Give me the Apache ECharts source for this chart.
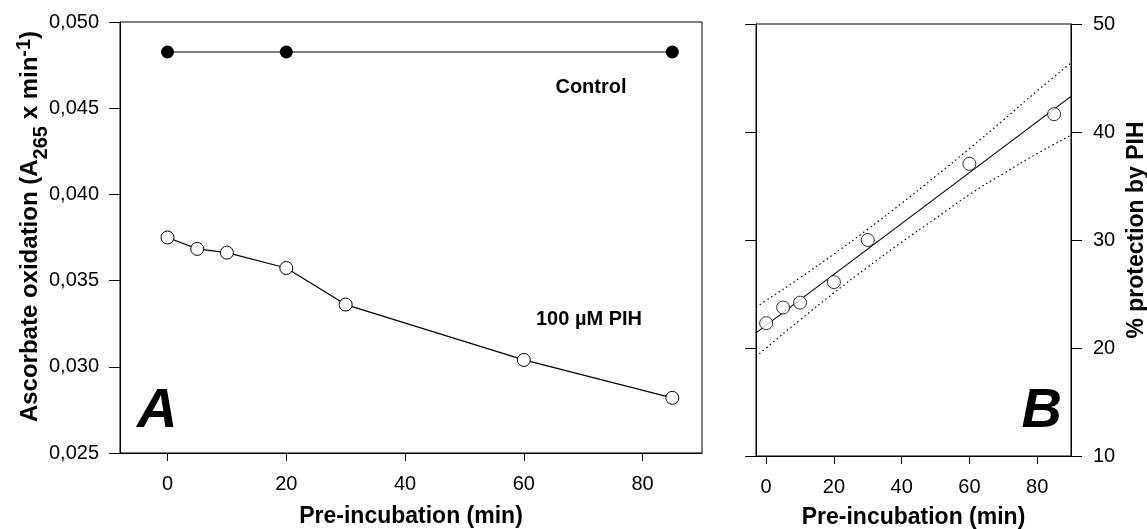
<!DOCTYPE html>
<html>
<head>
<meta charset="utf-8">
<script src="https://cdn.jsdelivr.net/npm/echarts@6/dist/echarts.min.js"></script>
<style>
  html, body { margin: 0; padding: 0; background: #fff; }
  #chart { width: 1147px; height: 529px; }
</style>
</head>
<body>
<div id="chart"></div>
<script>
const fontName = "'Liberation Sans', Arial, sans-serif";

// panel A - ascorbate oxidation
const timeA = [0, 5, 10, 20, 30, 60, 85];
const pihValues = [0.0375, 0.03684, 0.03662, 0.03573, 0.03361, 0.0304, 0.0282];
const controlTimes = [0, 20, 85];
const controlValues = [0.04826, 0.04826, 0.04826];
const yTicksA = [0.025, 0.03, 0.035, 0.04, 0.045, 0.05];

// panel B - % protection
const timeB = [0, 5, 10, 20, 30, 60, 85];
const protection = [22.3, 23.75, 24.2, 26.1, 30.0, 37.05, 41.65];
const fitX = [-3, 90];
const fitY = [21.4, 43.3];
const bandX = [-3, 0, 10, 20, 30, 40, 50, 60, 70, 80, 90];
const bandUpper = [23.8, 24.4, 26.5, 28.7, 31.0, 33.4, 35.9, 38.45, 41.1, 43.8, 46.4];
const bandLower = [19.2, 20.0, 22.6, 25.1, 27.5, 29.8, 32.0, 34.2, 36.15, 38.0, 39.7];

const xTicks = [0, 20, 40, 60, 80];

function pairs(xs, ys) {
  return xs.map((x, i) => [x, ys[i]]);
}

const chart = echarts.init(document.getElementById("chart"));

const tickStyle = { color: "#000", width: 1 };
const labelStyle = { fontSize: 20, color: "#000", fontFamily: fontName };
const titleStyle = { fontSize: 23, fontWeight: "bold", color: "#000", fontFamily: fontName };

const option = {
  animation: false,
  backgroundColor: "#fff",
  grid: [
    { left: 120, top: 22, width: 582, height: 431, show: true, borderColor: "#000", borderWidth: 1, outerBoundsMode: "none" },
    { left: 756, top: 24, width: 315, height: 432, show: true, borderColor: "#000", borderWidth: 1, outerBoundsMode: "none" }
  ],
  xAxis: [
    {
      gridIndex: 0,
      type: "value",
      min: -8,
      max: 90,
      axisLine: { onZero: false, lineStyle: tickStyle },
      axisTick: { customValues: xTicks, length: 8, lineStyle: tickStyle },
      axisLabel: Object.assign({ customValues: xTicks, margin: 21 }, labelStyle),
      splitLine: { show: false },
      name: "Pre-incubation (min)",
      nameLocation: "middle",
      nameGap: 52,
      nameMoveOverlap: false,
      nameTextStyle: titleStyle
    },
    {
      gridIndex: 1,
      type: "value",
      min: -3,
      max: 90,
      axisLine: { onZero: false, lineStyle: tickStyle },
      axisTick: { customValues: xTicks, length: 8, lineStyle: tickStyle },
      axisLabel: Object.assign({ customValues: xTicks, margin: 21 }, labelStyle),
      splitLine: { show: false },
      name: "Pre-incubation (min)",
      nameLocation: "middle",
      nameGap: 50,
      nameMoveOverlap: false,
      nameTextStyle: titleStyle
    }
  ],
  yAxis: [
    {
      gridIndex: 0,
      type: "value",
      min: 0.025,
      max: 0.05,
      axisLine: { show: true, onZero: false, lineStyle: tickStyle },
      axisTick: { show: true, customValues: yTicksA, length: 11, lineStyle: tickStyle },
      axisLabel: Object.assign({
        customValues: yTicksA,
        margin: 21,
        formatter: (v) => v.toFixed(3).replace(".", ",")
      }, labelStyle),
      splitLine: { show: false },
      name: "{m|Ascorbate oxidation (A}{s|265}{m| x min}{p|-1}{m|)}",
      nameLocation: "middle",
      nameRotate: 90,
      nameGap: 74,
      nameMoveOverlap: false,
      nameTextStyle: {
        color: "#000",
        padding: [0, 0, 0, 22],
        rich: {
          m: { fontSize: 24, fontWeight: "bold", lineHeight: 32, fontFamily: fontName, color: "#000" },
          s: { fontSize: 20, fontWeight: "bold", verticalAlign: "bottom", height: 10, fontFamily: fontName, color: "#000" },
          p: { fontSize: 20, fontWeight: "bold", verticalAlign: "top", height: 20, fontFamily: fontName, color: "#000" }
        }
      }
    },
    {
      gridIndex: 1,
      type: "value",
      position: "left",
      min: 10,
      max: 50,
      interval: 10,
      axisLine: { show: true, onZero: false, lineStyle: tickStyle },
      axisTick: { show: true, length: 11, lineStyle: tickStyle },
      axisLabel: { show: false },
      splitLine: { show: false }
    },
    {
      gridIndex: 1,
      type: "value",
      position: "right",
      min: 10,
      max: 50,
      interval: 10,
      axisLine: { show: true, onZero: false, lineStyle: tickStyle },
      axisTick: { show: true, length: 11, lineStyle: tickStyle },
      axisLabel: Object.assign({ margin: 22 }, labelStyle),
      splitLine: { show: false },
      name: "% protection by PIH",
      nameLocation: "middle",
      nameRotate: 90,
      nameGap: 54,
      nameMoveOverlap: false,
      nameTextStyle: Object.assign({ padding: [0, 0, 0, 20] }, titleStyle)
    }
  ],
  series: [
    {
      name: "Control",
      type: "line",
      xAxisIndex: 0,
      yAxisIndex: 0,
      data: pairs(controlTimes, controlValues),
      symbol: "circle",
      symbolSize: 13,
      itemStyle: { color: "#000" },
      lineStyle: { color: "#555", width: 1.6 },
      z: 3
    },
    {
      name: "100 µM PIH",
      type: "line",
      xAxisIndex: 0,
      yAxisIndex: 0,
      data: pairs(timeA, pihValues),
      symbol: "circle",
      symbolSize: 13,
      itemStyle: { color: "#fff", borderColor: "#000", borderWidth: 1 },
      lineStyle: { color: "#000", width: 1.2 },
      z: 3
    },
    {
      name: "fit",
      type: "line",
      xAxisIndex: 1,
      yAxisIndex: 2,
      data: pairs(fitX, fitY),
      symbol: "none",
      lineStyle: { color: "#000", width: 1.2 }
    },
    {
      name: "upper",
      type: "line",
      xAxisIndex: 1,
      yAxisIndex: 2,
      data: pairs(bandX, bandUpper),
      smooth: true,
      symbol: "none",
      lineStyle: { color: "#000", width: 1.2, type: [1.5, 3] }
    },
    {
      name: "lower",
      type: "line",
      xAxisIndex: 1,
      yAxisIndex: 2,
      data: pairs(bandX, bandLower),
      smooth: true,
      symbol: "none",
      lineStyle: { color: "#000", width: 1.2, type: [1.5, 3] }
    },
    {
      name: "protection",
      type: "scatter",
      xAxisIndex: 1,
      yAxisIndex: 2,
      data: pairs(timeB, protection),
      symbol: "circle",
      symbolSize: 13,
      itemStyle: { color: "#fff", borderColor: "#000", borderWidth: 1 },
      z: 4
    }
  ],
  graphic: [
    {
      type: "text",
      x: 591,
      y: 87,
      style: { text: "Control", fontSize: 20, fontWeight: "bold", fontFamily: fontName, fill: "#000", align: "center", verticalAlign: "middle" }
    },
    {
      type: "text",
      x: 589,
      y: 319,
      style: { text: "100 µM PIH", fontSize: 20, fontWeight: "bold", fontFamily: fontName, fill: "#000", align: "center", verticalAlign: "middle" }
    },
    {
      type: "text",
      x: 137,
      y: 412,
      style: { text: "A", fontSize: 56, fontWeight: "bold", fontStyle: "italic", fontFamily: fontName, fill: "#000", align: "left", verticalAlign: "middle" }
    },
    {
      type: "text",
      x: 1062,
      y: 412,
      style: { text: "B", fontSize: 56, fontWeight: "bold", fontStyle: "italic", fontFamily: fontName, fill: "#000", align: "right", verticalAlign: "middle" }
    }
  ]
};

chart.setOption(option);
</script>
</body>
</html>
